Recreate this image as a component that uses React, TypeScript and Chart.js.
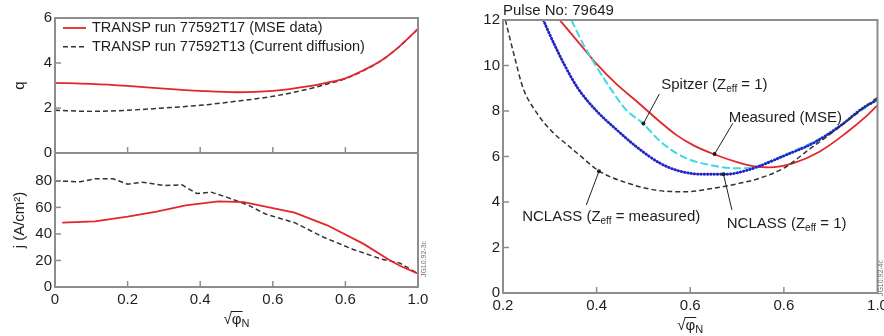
import React, { useEffect, useRef } from "react";
import { Chart, registerables } from "chart.js";

Chart.register(...registerables);

const FONT = "'Liberation Sans', Arial, Helvetica, sans-serif";
const TEXT = "#1e1e1e";
const FRAME = "#8d8d8d";
const RED = "#e3262b";
const DARK = "#333333";
const BLUE = "#2323c8";
const CYAN = "#3fd9e3";

// ---------- top-left panel: q ----------
const qX = [0, 0.1, 0.2, 0.3, 0.4, 0.5, 0.6, 0.7, 0.75, 0.8, 0.85, 0.9, 0.95, 1.0];
const qMse = [3.12, 3.07, 2.98, 2.86, 2.76, 2.7, 2.76, 2.97, 3.13, 3.32, 3.68, 4.12, 4.75, 5.52];
const qDiffusion = [1.9, 1.85, 1.9, 2.0, 2.12, 2.3, 2.52, 2.85, 3.07, 3.3, 3.66, 4.12, 4.75, 5.52];
const qTicks = [0, 2, 4, 6];
const seriesLabels = ["TRANSP run 77592T17 (MSE data)", "TRANSP run 77592T13 (Current diffusion)"];

// ---------- bottom-left panel: j ----------
const jMseX = [0.02, 0.11, 0.2, 0.28, 0.36, 0.45, 0.52, 0.6, 0.66, 0.75, 0.85, 0.92, 0.95, 1.0];
const jMse = [48.5, 49.5, 53, 56.8, 61.5, 64.5, 64, 59.5, 56, 46.5, 32.5, 20.5, 16, 10];
const jDiffX = [0, 0.07, 0.11, 0.16, 0.2, 0.24, 0.3, 0.35, 0.39, 0.43, 0.48, 0.53, 0.58, 0.66, 0.74, 0.82, 0.9, 0.95, 1.0];
const jDiff = [80, 79.3, 81.5, 81.5, 77.5, 79, 76.5, 77, 70.5, 71.5, 67, 62, 55, 48.5, 37.5, 28.5, 21, 18, 10];
const jTicks = [0, 20, 40, 60, 80];
const leftXTicks = [0, 0.2, 0.4, 0.6, 0.8, 1.0];
const leftXTickLabels = ["0", "0.2", "0.4", "0.6", "0.6", "1.0"];

// ---------- right panel ----------
const rYTicks = [0, 2, 4, 6, 8, 10, 12];
const rXTicks = [0.2, 0.4, 0.6, 0.8, 1.0];
const rXTickLabels = ["0.2", "0.4", "0.6", "0.6", "1.0"];
const measX = [0.321, 0.364, 0.4, 0.442, 0.492, 0.534, 0.57, 0.606, 0.648, 0.705, 0.734, 0.769, 0.819, 0.876, 0.932, 0.975, 1.0];
const measY = [12, 10.95, 10.07, 9.19, 8.31, 7.55, 6.95, 6.5, 6.12, 5.72, 5.58, 5.52, 5.7, 6.21, 7.02, 7.75, 8.25];
const spitzerX = [0.346, 0.371, 0.396, 0.428, 0.463, 0.499, 0.534, 0.584, 0.641, 0.698, 0.734, 0.78, 0.83, 0.88, 0.93, 0.97, 1.0];
const spitzerY = [12, 10.95, 10.07, 9.04, 8.05, 7.45, 6.7, 5.99, 5.63, 5.48, 5.52, 5.88, 6.32, 6.82, 7.5, 8.1, 8.5];
const ncOneX = [0.286, 0.308, 0.332, 0.36, 0.4, 0.442, 0.485, 0.534, 0.577, 0.627, 0.677, 0.719, 0.748, 0.805, 0.862, 0.918, 0.968, 1.0];
const ncOneY = [12, 11.0, 10.0, 9.0, 8.0, 7.19, 6.43, 5.72, 5.36, 5.22, 5.22, 5.38, 5.58, 6.07, 6.58, 7.31, 8.12, 8.5];
const ncMeasX = [0.205, 0.225, 0.243, 0.271, 0.307, 0.335, 0.364, 0.406, 0.463, 0.534, 0.591, 0.648, 0.705, 0.748, 0.805, 0.85, 0.9, 0.95, 1.0];
const ncMeasY = [12, 10.35, 9.0, 7.95, 7.05, 6.55, 6.05, 5.35, 4.85, 4.5, 4.45, 4.6, 4.82, 5.04, 5.55, 6.25, 7.0, 7.8, 8.6];
const pulseLabel = "Pulse No: 79649";
// annotation texts: segments at odd index are subscripts
const noteTexts = [
  ["Spitzer (Z", "eff", " = 1)"],
  ["Measured (MSE)"],
  ["NCLASS (Z", "eff", " = measured)"],
  ["NCLASS (Z", "eff", " = 1)"],
];
// anchors in data coordinates: [textX, textY, lineStartX, lineStartY, dotX, dotY]
const noteAnchors = [
  [0.538, 9.14, 0.534, 8.75, 0.5, 7.45],
  [0.682, 7.72, 0.691, 7.46, 0.652, 6.11],
  [0.241, 3.35, 0.378, 3.87, 0.405, 5.35],
  [0.678, 3.03, 0.689, 3.65, 0.671, 5.22],
];
const xTitleMain = ["√", "φ"];
const xTitleSub = "N";
const leftId = "JG10.92-3c";
const rightId = "JG10.92-4c";

const pts = (xs: number[], ys: number[]) => xs.map((x, i) => ({ x, y: ys[i] }));

function drawSegments(ctx: CanvasRenderingContext2D, segs: string[], x: number, y: number, size = 15) {
  let cx = x;
  segs.forEach((s, i) => {
    const sub = i % 2 === 1;
    ctx.font = `${sub ? Math.round(size * 0.68) : size}px ${FONT}`;
    ctx.fillText(s, cx, y + (sub ? 4 : 0));
    cx += ctx.measureText(s).width;
  });
}

function makeFrame(xTicks: number[], yTicks: number[]) {
  return {
    id: "frame",
    afterDraw(chart: any) {
      const { ctx, chartArea: a, scales } = chart;
      ctx.save();
      ctx.strokeStyle = FRAME;
      ctx.lineWidth = 2;
      ctx.strokeRect(a.left, a.top, a.right - a.left, a.bottom - a.top);
      ctx.lineWidth = 1.5;
      const len = 6;
      xTicks.forEach((v) => {
        const px = scales.x.getPixelForValue(v);
        ctx.beginPath();
        ctx.moveTo(px, a.bottom);
        ctx.lineTo(px, a.bottom - len);
        ctx.stroke();
      });
      yTicks.forEach((v) => {
        const py = scales.y.getPixelForValue(v);
        ctx.beginPath();
        ctx.moveTo(a.left, py);
        ctx.lineTo(a.left + len, py);
        ctx.stroke();
      });
      ctx.restore();
    },
  };
}

const legendPlugin = {
  id: "qlegend",
  afterDraw(chart: any) {
    const { ctx, chartArea: a } = chart;
    ctx.save();
    ctx.textBaseline = "middle";
    chart.data.datasets.forEach((ds: any, i: number) => {
      const y = a.top + 10 + i * 18.7;
      ctx.strokeStyle = ds.borderColor;
      ctx.lineWidth = ds.borderWidth;
      ctx.setLineDash(ds.borderDash || []);
      ctx.beginPath();
      ctx.moveTo(a.left + 8, y);
      ctx.lineTo(a.left + 31, y);
      ctx.stroke();
      ctx.setLineDash([]);
      ctx.fillStyle = TEXT;
      ctx.font = `14.5px ${FONT}`;
      ctx.fillText(ds.label, a.left + 37, y);
    });
    ctx.restore();
  },
};

function makeXTitle(dy: number) {
  return {
    id: "xtitle",
    afterDraw(chart: any) {
      const { ctx, chartArea: a } = chart;
      ctx.save();
      ctx.fillStyle = TEXT;
      ctx.strokeStyle = TEXT;
      ctx.textBaseline = "alphabetic";
      ctx.font = `15px ${FONT}`;
      const wr = ctx.measureText(xTitleMain[0]).width;
      const wp = ctx.measureText(xTitleMain[1]).width;
      ctx.font = `11px ${FONT}`;
      const wn = ctx.measureText(xTitleSub).width;
      const total = wr + wp + wn;
      const y = a.bottom + dy;
      let x = (a.left + a.right) / 2 - total / 2;
      ctx.font = `15px ${FONT}`;
      ctx.fillText(xTitleMain[0], x, y);
      x += wr;
      ctx.fillText(xTitleMain[1], x, y);
      ctx.lineWidth = 1;
      ctx.beginPath();
      ctx.moveTo(x - 1, y - 12.5);
      ctx.lineTo(x + wp + 1, y - 12.5);
      ctx.stroke();
      x += wp;
      ctx.font = `11px ${FONT}`;
      ctx.fillText(xTitleSub, x, y + 3);
      ctx.restore();
    },
  };
}

function makeIdTag(text: string, dx: number, dy: number) {
  return {
    id: "idtag",
    afterDraw(chart: any) {
      const { ctx, chartArea: a } = chart;
      ctx.save();
      ctx.translate(a.right + dx, a.bottom - dy);
      ctx.rotate(-Math.PI / 2);
      ctx.font = `7px ${FONT}`;
      ctx.fillStyle = "#6f6f6f";
      ctx.textAlign = "center";
      ctx.textBaseline = "middle";
      ctx.fillText(text, 0, 0);
      ctx.restore();
    },
  };
}

const notesPlugin = {
  id: "notes",
  afterDraw(chart: any) {
    const { ctx, chartArea: a, scales } = chart;
    const X = (v: number) => scales.x.getPixelForValue(v);
    const Y = (v: number) => scales.y.getPixelForValue(v);
    ctx.save();
    ctx.fillStyle = TEXT;
    ctx.textBaseline = "middle";
    ctx.font = `15px ${FONT}`;
    ctx.fillText(pulseLabel, a.left, a.top - 9);
    noteTexts.forEach((segs, i) => {
      const [tx, ty, lx, ly, dx, dy] = noteAnchors[i];
      drawSegments(ctx, segs, X(tx), Y(ty));
      ctx.strokeStyle = "#222";
      ctx.lineWidth = 1;
      ctx.beginPath();
      ctx.moveTo(X(lx), Y(ly));
      ctx.lineTo(X(dx), Y(dy));
      ctx.stroke();
      ctx.beginPath();
      ctx.arc(X(dx), Y(dy), 2, 0, Math.PI * 2);
      ctx.fill();
    });
    ctx.restore();
  },
};

function yScale(min: number, max: number, ticks: number[], width: number, title?: string) {
  return {
    type: "linear",
    min,
    max,
    afterBuildTicks: (s: any) => {
      s.ticks = ticks.map((v) => ({ value: v }));
    },
    afterFit: (s: any) => {
      s.width = width;
      s.paddingTop = 0;
      s.paddingBottom = 0;
    },
    grid: { display: false, drawTicks: false },
    border: { display: false },
    ticks: { font: { family: FONT, size: 15 }, color: TEXT, padding: 3, autoSkip: false },
    title: title
      ? { display: true, text: title, font: { family: FONT, size: 15 }, color: TEXT, padding: { top: 11, bottom: 0 } }
      : { display: false },
  };
}

function xScale(min: number, max: number, ticks: number[], labels: string[] | null, height: number) {
  return {
    type: "linear",
    min,
    max,
    afterBuildTicks: (s: any) => {
      s.ticks = ticks.map((v) => ({ value: v }));
    },
    afterFit: (s: any) => {
      s.height = height;
      s.paddingLeft = 0;
      s.paddingRight = 0;
    },
    grid: { display: false, drawTicks: false },
    border: { display: false },
    ticks: {
      display: !!labels,
      font: { family: FONT, size: 15 },
      color: TEXT,
      padding: 4,
      autoSkip: false,
      maxRotation: 0,
      callback: (_v: any, i: number) => (labels ? labels[i] : ""),
    },
  };
}

const baseOptions = (padding: any, scales: any) => ({
  responsive: false,
  animation: false as const,
  events: [] as any[],
  layout: { padding },
  plugins: { legend: { display: false }, tooltip: { enabled: false }, title: { display: false } },
  elements: { point: { radius: 0 } },
  scales,
});

export default function App() {
  const qRef = useRef<HTMLCanvasElement>(null);
  const jRef = useRef<HTMLCanvasElement>(null);
  const rRef = useRef<HTMLCanvasElement>(null);

  useEffect(() => {
    const qChart = new Chart(qRef.current as HTMLCanvasElement, {
      type: "line",
      data: {
        datasets: [
          { label: seriesLabels[0], data: pts(qX, qMse), borderColor: RED, borderWidth: 1.8, cubicInterpolationMode: "monotone" },
          { label: seriesLabels[1], data: pts(qX, qDiffusion), borderColor: DARK, borderWidth: 1.5, borderDash: [5, 3], cubicInterpolationMode: "monotone" },
        ],
      } as any,
      options: baseOptions(
        { left: 0, right: 22, top: 18, bottom: 0 },
        { x: xScale(0, 1, [0.2, 0.4, 0.6, 0.8], null, 7), y: yScale(0, 6, qTicks, 55, "q") }
      ) as any,
      plugins: [makeFrame([0.2, 0.4, 0.6, 0.8], [2, 4]), legendPlugin],
    });

    const jChart = new Chart(jRef.current as HTMLCanvasElement, {
      type: "line",
      data: {
        datasets: [
          { label: seriesLabels[0], data: pts(jMseX, jMse), borderColor: RED, borderWidth: 1.8, tension: 0 },
          { label: seriesLabels[1], data: pts(jDiffX, jDiff), borderColor: DARK, borderWidth: 1.5, borderDash: [5, 3], tension: 0 },
        ],
      } as any,
      options: baseOptions(
        { left: 0, right: 22, top: 3, bottom: 0 },
        { x: xScale(0, 1, leftXTicks, leftXTickLabels, 49), y: yScale(0, 101, jTicks, 55, "j (A/cm²)") }
      ) as any,
      plugins: [makeFrame([0.2, 0.4, 0.6, 0.8], [20, 40, 60, 80]), makeXTitle(37), makeIdTag(leftId, 6, 28)],
    });

    const rChart = new Chart(rRef.current as HTMLCanvasElement, {
      type: "line",
      data: {
        datasets: [
          { label: "NCLASS (Zeff = measured)", data: pts(ncMeasX, ncMeasY), borderColor: DARK, borderWidth: 1.5, borderDash: [5, 3], cubicInterpolationMode: "monotone" },
          { label: "NCLASS (Zeff = 1)", data: pts(ncOneX, ncOneY), borderColor: BLUE, borderWidth: 2.8, borderDash: [0.5, 2.8], borderCapStyle: "round", cubicInterpolationMode: "monotone" },
          { label: "Spitzer (Zeff = 1)", data: pts(spitzerX, spitzerY), borderColor: CYAN, borderWidth: 2, borderDash: [8, 3], cubicInterpolationMode: "monotone" },
          { label: "Measured (MSE)", data: pts(measX, measY), borderColor: RED, borderWidth: 1.8, cubicInterpolationMode: "monotone" },
        ],
      } as any,
      options: baseOptions(
        { left: 0, right: 6.5, top: 20, bottom: 0 },
        { x: xScale(0.2, 1, rXTicks, rXTickLabels, 43), y: yScale(0, 12, rYTicks, 63) }
      ) as any,
      plugins: [makeFrame([0.4, 0.6, 0.8], [2, 4, 6, 8, 10]), notesPlugin, makeXTitle(37), makeIdTag(rightId, 3.5, 15)],
    });

    return () => {
      qChart.destroy();
      jChart.destroy();
      rChart.destroy();
    };
  }, []);

  return (
    <div style={{ position: "absolute", left: 0, top: 0, width: 884, height: 336, background: "#fff", overflow: "hidden" }}>
      <canvas ref={qRef} width={440} height={160} style={{ position: "absolute", left: 0, top: 0 }} />
      <canvas ref={jRef} width={440} height={186} style={{ position: "absolute", left: 0, top: 150 }} />
      <canvas ref={rRef} width={444} height={336} style={{ position: "absolute", left: 440, top: 0 }} />
    </div>
  );
}
